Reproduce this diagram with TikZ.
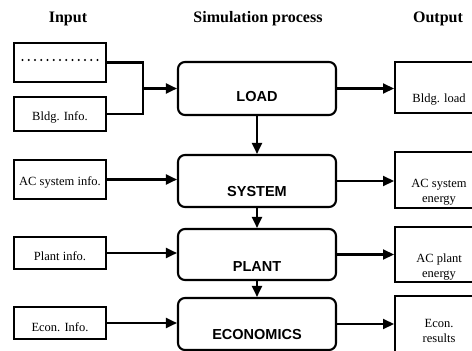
\documentclass[tikz,border=0pt]{standalone}
\usepackage{fontspec}
\setmainfont{Liberation Serif}
\newfontfamily\procfont{Liberation Sans}
\usetikzlibrary{positioning, calc, arrows.meta}

\tikzset{
  head/.style={font=\fontsize{16}{18}\selectfont\bfseries},
  intext/.style={font=\fontsize{12.5}{14}\selectfont},
  proctext/.style={font=\procfont\fontsize{14.5}{16}\selectfont\bfseries},
  outtext/.style={font=\fontsize{12.5}{15}\selectfont, align=center},
  inbox/.style={draw, line width=2.1pt, minimum width=92pt},
  procbox/.style={draw, line width=2.1pt, rounded corners=7pt, minimum width=158pt},
  outbox/.style={draw, line width=2.1pt, minimum width=90pt, anchor=west},
  wire/.style={line width=2.1pt},
  flow/.style={line width=2.1pt, -{Triangle[length=11pt,width=10pt]}},
}

\begin{document}
\begin{tikzpicture}[x=1pt, y=-1pt]
\useasboundingbox (0,0) rectangle (472,351);

% column heads
\node[head] (hin) at (68,19) {Input};
\node[head] (hsim) at (258,19) {Simulation process};
\node[head] (hout) at (438,19) {Output};

% input boxes
\node[inbox, minimum height=39pt] (dots) at (60,62.5) {};
\draw[line width=2.2pt, line cap=round, dash pattern=on 0pt off 6.25pt]
  ($(dots.center)+(-37.5,-2.5)$) -- ($(dots.center)+(37.5,-2.5)$);
\node[inbox, minimum height=34pt, label={[intext, yshift=-3pt]center:Bldg. Info.}] (binfo) at (60,114) {};
\node[inbox, minimum height=39pt, label={[intext, yshift=-2.5pt]center:AC system info.}] (acinfo) at (60,179.5) {};
\node[inbox, minimum height=32pt, label={[intext, yshift=-3pt]center:Plant info.}] (plinfo) at (60,253) {};
\node[inbox, minimum height=32pt, label={[intext, yshift=-4pt]center:Econ. Info.}] (ecinfo) at (60,323) {};

% simulation process
\node[procbox, minimum height=53pt, label={[proctext, yshift=-8.5pt]center:LOAD}] (load) at (257,88.5) {};
\node[procbox, minimum height=52pt, label={[proctext, yshift=-11pt]center:SYSTEM}] (system) at (257,181) {};
\node[procbox, minimum height=51pt, label={[proctext, yshift=-12.5pt]center:PLANT}] (plant) at (257,254.5) {};
\node[procbox, minimum height=52pt, label={[proctext, yshift=-11pt]center:ECONOMICS}] (econ) at (257,324) {};

% outputs
\node[outbox, minimum height=51pt, label={[outtext, yshift=-12pt, xshift=-1pt]center:Bldg. load}] (bload) at (394,87.5) {};
\node[outbox, minimum height=56pt, label={[outtext, yshift=-12.5pt, xshift=-1pt]center:AC system\\energy}] (acsys) at (394,180) {};
\node[outbox, minimum height=55pt, label={[outtext, yshift=-12.5pt, xshift=-1pt]center:AC plant\\energy}] (acpl) at (394,254.5) {};
\node[outbox, minimum height=60pt, label={[outtext, yshift=-4.5pt, xshift=-1pt]center:Econ.\\results}] (econr) at (394,326) {};

% inputs into the process
\coordinate (merge) at (143,88.5);
\draw[wire] (dots.east) -| (merge) |- (binfo.east);
\draw[flow] (merge) -- (merge -| load.west);
\draw[flow] (acinfo.east) -- (acinfo.east -| system.west);
\draw[flow] (plinfo.east) -- (plinfo.east -| plant.west);
\draw[flow] (ecinfo.east) -- (ecinfo.east -| econ.west);

% down the chain
\draw[flow] (load.south) -- (system.north);
\draw[flow] (system.south) -- (plant.north);
\draw[flow] (plant.south) -- (econ.north);

% results
\draw[flow] (load.east) -- (load.east -| bload.west);
\draw[flow] (system.east) -- (system.east -| acsys.west);
\draw[flow] (plant.east) -- (plant.east -| acpl.west);
\draw[flow] (econ.east) -- (econ.east -| econr.west);

\end{tikzpicture}
\end{document}
